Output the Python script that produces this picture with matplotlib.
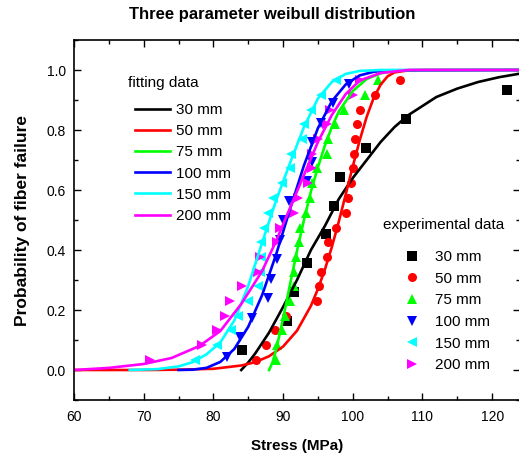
import numpy as np
import matplotlib.pyplot as plt
from matplotlib.ticker import MultipleLocator

plt.rcParams['font.family'] = ['Liberation Sans', 'DejaVu Sans']

# fitted curves
fit_30_x = [84, 85, 86, 88, 90, 92, 94, 96, 98, 100, 102, 104, 106, 108, 110, 112, 115, 118, 121, 124]
fit_30_y = [0.0, 0.025, 0.055, 0.125, 0.21, 0.30, 0.40, 0.48, 0.57, 0.64, 0.70, 0.76, 0.81, 0.85, 0.88, 0.91, 0.938, 0.96, 0.976, 0.988]
fit_50_x = [60, 70, 75, 80, 84, 86, 88, 90, 92, 94, 95, 96, 97, 98, 99, 100, 101, 102, 103, 104, 105, 106, 108, 110, 124]
fit_50_y = [0.0, 0.0, 0.001, 0.004, 0.015, 0.026, 0.046, 0.078, 0.131, 0.214, 0.27, 0.335, 0.41, 0.495, 0.586, 0.678, 0.766, 0.844, 0.907, 0.951, 0.979, 0.992, 0.999, 1.0, 1.0]
fit_75_x = [88, 88.5, 89, 90, 91, 92, 93, 94, 95, 96, 97, 98, 100, 102, 104, 106, 108, 124]
fit_75_y = [0.0, 0.026, 0.067, 0.171, 0.285, 0.397, 0.50, 0.595, 0.676, 0.748, 0.81, 0.862, 0.93, 0.97, 0.989, 0.997, 0.999, 1.0]
fit_100_x = [75, 77, 79, 81, 83, 85, 87, 89, 91, 93, 95, 97, 99, 101, 103, 105, 124]
fit_100_y = [0.0, 0.001, 0.007, 0.027, 0.070, 0.144, 0.25, 0.385, 0.536, 0.682, 0.806, 0.896, 0.952, 0.982, 0.994, 0.999, 1.0]
fit_150_x = [68, 72, 75, 77, 79, 81, 83, 85, 87, 89, 91, 93, 95, 97, 99, 101, 104, 124]
fit_150_y = [0.0, 0.003, 0.012, 0.026, 0.052, 0.092, 0.165, 0.28, 0.425, 0.565, 0.69, 0.81, 0.905, 0.96, 0.987, 0.997, 1.0, 1.0]
fit_200_x = [60, 65, 70, 74, 78, 81, 84, 87, 89, 91, 93, 95, 97, 99, 101, 104, 108, 124]
fit_200_y = [0.0, 0.007, 0.02, 0.04, 0.08, 0.13, 0.22, 0.33, 0.43, 0.54, 0.65, 0.76, 0.85, 0.92, 0.965, 0.99, 1.0, 1.0]

# experimental points
exp_30_x = [84.1, 90.5, 91.6, 93.4, 96.1, 97.3, 98.2, 101.9, 107.6, 122.2]
exp_30_y = [0.067, 0.163, 0.260, 0.356, 0.452, 0.548, 0.644, 0.740, 0.837, 0.933]
exp_50_x = [86.1, 87.6, 88.8, 90.4, 94.8, 95.2, 95.4, 96.3, 96.4, 97.6, 99.1, 99.3, 99.8, 100.0, 100.2, 100.3, 100.6, 101.1, 103.2, 106.8]
exp_50_y = [0.034, 0.083, 0.132, 0.181, 0.230, 0.279, 0.328, 0.377, 0.426, 0.475, 0.525, 0.574, 0.623, 0.672, 0.721, 0.770, 0.819, 0.868, 0.917, 0.966]
exp_75_x = [89.0, 89.2, 89.9, 90.3, 91.0, 91.5, 91.6, 91.9, 92.3, 92.5, 93.3, 93.9, 94.2, 94.8, 96.3, 96.4, 97.4, 98.8, 101.8, 103.6]
exp_75_y = [0.034, 0.083, 0.132, 0.181, 0.230, 0.279, 0.328, 0.377, 0.426, 0.475, 0.525, 0.574, 0.623, 0.672, 0.721, 0.770, 0.819, 0.868, 0.917, 0.966]
exp_100_x = [81.9, 83.8, 85.5, 87.9, 88.2, 89.1, 89.6, 90.0, 90.9, 93.4, 94.1, 94.2, 95.4, 97.2, 99.4]
exp_100_y = [0.045, 0.110, 0.175, 0.240, 0.305, 0.370, 0.435, 0.500, 0.565, 0.630, 0.695, 0.760, 0.825, 0.890, 0.955]
exp_150_x = [77.4, 80.5, 82.5, 83.5, 85.0, 86.4, 86.7, 86.8, 86.9, 87.3, 87.9, 88.6, 89.8, 91.0, 91.2, 92.7, 93.0, 94.0, 95.5, 97.6]
exp_150_y = [0.034, 0.083, 0.132, 0.181, 0.230, 0.279, 0.328, 0.377, 0.426, 0.475, 0.525, 0.574, 0.623, 0.672, 0.721, 0.770, 0.819, 0.868, 0.917, 0.966]
exp_200_x = [70.9, 78.3, 80.5, 81.7, 82.4, 84.1, 86.4, 86.7, 89.1, 89.6, 91.5, 92.2, 93.6, 94.1, 94.1, 95.0, 96.3, 96.7, 100.1, 101.0]
exp_200_y = [0.034, 0.083, 0.132, 0.181, 0.230, 0.279, 0.328, 0.377, 0.426, 0.475, 0.525, 0.574, 0.623, 0.672, 0.721, 0.770, 0.819, 0.868, 0.917, 0.966]

labels = ['30 mm', '50 mm', '75 mm', '100 mm', '150 mm', '200 mm']
colors = ['#000000', '#ff0000', '#00ff00', '#0000ff', '#00ffff', '#ff00ff']
markers = ['s', 'o', '^', 'v', '<', '>']

fits = [(fit_30_x, fit_30_y), (fit_50_x, fit_50_y), (fit_75_x, fit_75_y),
        (fit_100_x, fit_100_y), (fit_150_x, fit_150_y), (fit_200_x, fit_200_y)]
exps = [(exp_30_x, exp_30_y), (exp_50_x, exp_50_y), (exp_75_x, exp_75_y),
        (exp_100_x, exp_100_y), (exp_150_x, exp_150_y), (exp_200_x, exp_200_y)]

fig = plt.figure(figsize=(5.19, 4.55), dpi=100)
ax = fig.add_axes([74 / 519, 55 / 455, 446 / 519, 360 / 455])

pts = []
for (x, y), c, m, lab in zip(exps, colors, markers, labels):
    p, = ax.plot(x, y, linestyle='none', marker=m, color=c, markersize=6.5,
                 markeredgewidth=0, label=lab)
    pts.append(p)

lines = []
for (x, y), c, lab in zip(fits, colors, labels):
    l, = ax.plot(x, y, color=c, linewidth=1.9, label=lab)
    lines.append(l)

ax.set_xlim(60, 124)
ax.set_ylim(-0.1, 1.1)
ax.xaxis.set_major_locator(MultipleLocator(10))
ax.xaxis.set_minor_locator(MultipleLocator(5))
ax.yaxis.set_minor_locator(MultipleLocator(0.1))
ax.set_yticks([0, 0.2, 0.4, 0.6, 0.8, 1.0])
ax.set_yticklabels(['0.0', '0.2', '0.4', '0.6', '0.8', '1.0'])
ax.tick_params(which='both', direction='in', top=True, right=True, labelsize=10)
ax.tick_params(axis='x', pad=7)
ax.tick_params(axis='y', pad=6)
ax.tick_params(which='major', length=5, width=1)
ax.tick_params(which='minor', length=3, width=1)
for s in ax.spines.values():
    s.set_linewidth(1.2)

ax.set_xlabel('Stress (MPa)', fontsize=11, fontweight='bold', labelpad=11)
ax.set_ylabel('Probability of fiber failure', fontsize=12.5, fontweight='bold', labelpad=12)
fig.text(272 / 519, 1 - 15 / 455, 'Three parameter weibull distribution',
         fontsize=12, fontweight='bold', ha='center', va='center')

leg1 = ax.legend(handles=lines, loc='upper left',
                 bbox_to_anchor=(135 / 519, 1 - 103 / 455), bbox_transform=fig.transFigure,
                 frameon=False, fontsize=11, handlelength=2.3, handletextpad=0.4,
                 labelspacing=0.47, borderpad=0, borderaxespad=0)
ax.add_artist(leg1)
fig.text(128 / 519, 1 - 83 / 455, 'fitting data', fontsize=11, ha='left', va='center')

leg2 = ax.legend(handles=pts, loc='upper left',
                 bbox_to_anchor=(400 / 519, 1 - 250 / 455), bbox_transform=fig.transFigure,
                 frameon=False, fontsize=11, handlelength=1.6, handletextpad=0.7,
                 labelspacing=0.5, borderpad=0, borderaxespad=0)
fig.text(383 / 519, 1 - 225 / 455, 'experimental data', fontsize=11, ha='left', va='center')

fig.savefig('out.png', dpi=100)
